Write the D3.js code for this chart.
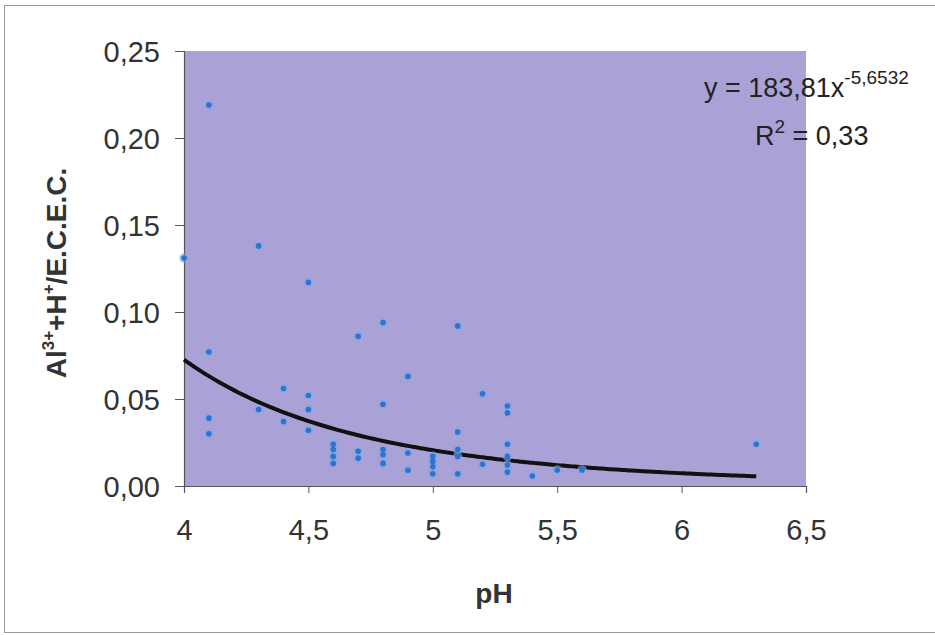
<!DOCTYPE html>
<html><head><meta charset="utf-8">
<script src="https://cdn.jsdelivr.net/npm/d3@7"></script>
<style>
html,body{margin:0;padding:0;background:#fff;}
svg{display:block;font-family:"Liberation Sans",Arial,sans-serif;}
</style></head>
<body>
<svg id="chart" width="935" height="635"></svg>
<script>
// Data
const phValues = [4.0,4.1,4.1,4.1,4.1,4.3,4.3,4.4,4.4,4.5,4.5,4.5,4.5,
  4.6,4.6,4.6,4.6,4.7,4.7,4.7,4.8,4.8,4.8,4.8,4.8,4.9,4.9,4.9,
  5.0,5.0,5.0,5.0,5.1,5.1,5.1,5.1,5.1,5.2,5.2,5.3,5.3,5.3,5.3,5.3,5.3,
  5.4,5.5,5.6,6.3];
const ratioValues = [0.131,0.219,0.077,0.039,0.030,0.138,0.044,0.056,0.037,0.117,0.052,0.044,0.032,
  0.024,0.021,0.017,0.013,0.086,0.020,0.016,0.094,0.047,0.021,0.018,0.013,0.063,0.019,0.009,
  0.017,0.014,0.011,0.007,0.092,0.031,0.021,0.017,0.007,0.053,0.0125,0.046,0.042,0.024,0.017,0.012,0.008,
  0.0057,0.0092,0.0092,0.024];
const fitCoef = 183.81, fitExp = -5.6532;
const fitRange = [4.0, 6.3];
const xTicks = [4,4.5,5,5.5,6,6.5];
const yTicks = [0,0.05,0.10,0.15,0.20,0.25];

const svg = d3.select("#chart");
const m = {left:184, right:806, top:51, bottom:486};
const x = d3.scaleLinear().domain([4,6.5]).range([m.left,m.right]);
const y = d3.scaleLinear().domain([0,0.25]).range([m.bottom,m.top]);
const comma = d => d3.format(".2f")(d).replace(".", ",");
const commaX = d => String(d).replace(".", ",");
const FS = 29;

// outer frame
svg.append("rect").attr("x",4.5).attr("y",5.5).attr("width",940).attr("height",627)
  .attr("fill","none").attr("stroke","#9a9a9a").attr("stroke-width",1);

// plot background
svg.append("rect").attr("x",m.left).attr("y",m.top).attr("width",m.right-m.left).attr("height",m.bottom-m.top)
  .attr("fill","#aaa2d6");

// axes
const xAxis = svg.append("g").attr("transform",`translate(0,${m.bottom})`)
  .call(d3.axisBottom(x).tickValues(xTicks).tickFormat(commaX).tickSize(7).tickPadding(26));
const yAxis = svg.append("g").attr("transform",`translate(${m.left},0)`)
  .call(d3.axisLeft(y).tickValues(yTicks).tickFormat(comma).tickSize(9).tickPadding(15));
[xAxis,yAxis].forEach(g=>{
  g.select(".domain").attr("stroke","#555").attr("stroke-width",1.2);
  g.selectAll(".tick line").attr("stroke","#555");
  g.selectAll(".tick text").attr("font-size",FS).attr("fill","#333")
    .attr("font-family","'Liberation Sans',Arial,sans-serif");
});
yAxis.selectAll(".tick text").attr("dy","0.36em");

// trendline
const fitPts = d3.range(fitRange[0], fitRange[1]+0.0001, 0.02).map(v=>[v, fitCoef*Math.pow(v,fitExp)]);
svg.append("path").datum(fitPts)
  .attr("d", d3.line().x(d=>x(d[0])).y(d=>y(d[1])).curve(d3.curveBasis))
  .attr("fill","none").attr("stroke","#111").attr("stroke-width",4);

// points
const pts = phValues.map((p,i)=>({p, r:ratioValues[i]}));
svg.append("g").selectAll("circle.halo").data(pts).join("circle")
  .attr("cx",d=>x(d.p)).attr("cy",d=>y(d.r)).attr("r",4.8)
  .attr("fill","#80a8e2").attr("opacity",0.6);
svg.append("g").selectAll("circle.pt").data(pts).join("circle")
  .attr("cx",d=>x(d.p)).attr("cy",d=>y(d.r)).attr("r",2.8)
  .attr("fill","#2f72cf");

// equation
const eq = svg.append("text").attr("x",704).attr("y",97).attr("font-size",27).attr("fill","#222");
eq.append("tspan").text("y = 183,81x");
eq.append("tspan").attr("font-size",19).attr("dy",-13).text("-5,6532");
const r2 = svg.append("text").attr("x",755).attr("y",145).attr("font-size",27).attr("fill","#222");
r2.append("tspan").text("R");
r2.append("tspan").attr("font-size",19).attr("dy",-12).text("2");
r2.append("tspan").attr("dy",12).text(" = 0,33");

// x title
svg.append("text").attr("x",494).attr("y",603).attr("text-anchor","middle")
  .attr("font-size",28).attr("font-weight","bold").attr("fill","#333").text("pH");

// y title
const yt = svg.append("text").attr("transform","translate(66,273) rotate(-90)")
  .attr("text-anchor","middle").attr("font-size",28).attr("font-weight","bold").attr("fill","#333");
yt.append("tspan").text("Al");
yt.append("tspan").attr("font-size",17).attr("dy",-12).text("3+");
yt.append("tspan").attr("dy",12).text("+H");
yt.append("tspan").attr("font-size",17).attr("dy",-12).text("+");
yt.append("tspan").attr("dy",12).text("/E.C.E.C.");
</script>
</body></html>
